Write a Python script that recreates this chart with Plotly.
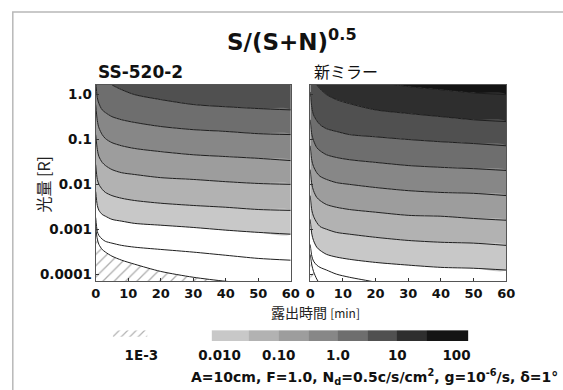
import numpy as np
import plotly.graph_objects as go

# ---------------------------------------------------------------
# Data: contour lines of S/(S+N)^0.5, given as log10(光量 [R])
# sampled at the exposure times below (minutes).
# ---------------------------------------------------------------
t_min = [0, 0.5, 1, 2, 3, 5, 8, 12, 20, 30, 40, 50, 60]

# SS-520-2
ss_3p16 = [1.22, 0.89, 0.66, 0.46, 0.35, 0.22, 0.11, 0.00, -0.11, -0.22, -0.27, -0.31, -0.34]
ss_1p0 = [0.33, -0.07, -0.20, -0.34, -0.40, -0.49, -0.56, -0.62, -0.71, -0.78, -0.82, -0.87, -0.89]
ss_0p316 = [-0.22, -0.58, -0.74, -0.89, -0.98, -1.07, -1.14, -1.20, -1.27, -1.34, -1.38, -1.42, -1.47]
ss_0p1 = [-0.89, -1.22, -1.38, -1.51, -1.58, -1.67, -1.74, -1.78, -1.85, -1.89, -1.94, -1.98, -2.00]
ss_0p0316 = [-1.56, -1.89, -2.00, -2.11, -2.18, -2.25, -2.31, -2.36, -2.42, -2.47, -2.51, -2.56, -2.58]
ss_0p01 = [-2.16, -2.47, -2.58, -2.67, -2.71, -2.78, -2.82, -2.87, -2.91, -2.96, -3.02, -3.07, -3.11]
ss_0p00316 = [-2.74, -3.05, -3.14, -3.22, -3.27, -3.31, -3.36, -3.40, -3.45, -3.51, -3.58, -3.65, -3.69]
ss_0p001 = [-2.96, -3.22, -3.34, -3.45, -3.51, -3.60, -3.69, -3.78, -3.94, -4.07, -4.16, -4.22, -4.29]

# 新ミラー
nm_31p6 = [1.66, 1.22, 1.04, 0.86, 0.75, 0.64, 0.51, 0.42, 0.29, 0.18, 0.11, 0.04, 0.00]
nm_10 = [1.00, 0.55, 0.38, 0.22, 0.13, 0.00, -0.11, -0.20, -0.34, -0.42, -0.49, -0.56, -0.60]
nm_3p16 = [0.06, -0.29, -0.45, -0.58, -0.67, -0.76, -0.82, -0.89, -0.94, -1.00, -1.05, -1.09, -1.14]
nm_1p0 = [-0.56, -0.89, -1.02, -1.18, -1.25, -1.34, -1.40, -1.45, -1.51, -1.58, -1.62, -1.65, -1.69]
nm_0p316 = [-1.14, -1.47, -1.60, -1.74, -1.82, -1.89, -1.96, -2.00, -2.07, -2.14, -2.18, -2.20, -2.25]
nm_0p1 = [-1.67, -2.00, -2.14, -2.29, -2.36, -2.45, -2.51, -2.56, -2.62, -2.69, -2.71, -2.76, -2.80]
nm_0p0316 = [-2.25, -2.58, -2.71, -2.85, -2.94, -3.00, -3.07, -3.11, -3.18, -3.25, -3.29, -3.31, -3.36]
nm_0p01 = [-2.78, -3.11, -3.25, -3.40, -3.47, -3.56, -3.62, -3.67, -3.74, -3.80, -3.85, -3.87, -3.91]
nm_0p00316 = [-3.34, -3.60, -3.71, -3.80, -3.85, -3.91, -4.00, -4.07, -4.18, -4.34, -4.45, -4.54, -4.62]
nm_0p001 = [-3.56, -3.80, -3.94, -4.11, -4.22, -4.34, -4.47, -4.58, -4.78, -4.96, -5.09, -5.18, -5.27]

# colour bands (S/(S+N)^0.5 intervals) and their grey levels
band_levels = [0.01, 0.0316, 0.1, 0.316, 1.0, 3.16, 10, 31.6, 100]
band_colors = ["#c8c8c8", "#b2b2b2", "#9d9d9d", "#878787",
               "#6e6e6e", "#505050", "#2e2e2e", "#141414"]
hatch_label = "1E-3"
cbar_ticktext = ["0.010", "0.10", "1.0", "10", "100"]

x_ticks = [0, 10, 20, 30, 40, 50, 60]
y_ticks = [1e-4, 1e-3, 1e-2, 1e-1, 1.0]
y_ticktext = ["0.0001", "0.001", "0.01", "0.1", "1.0"]

# ---------------------------------------------------------------
W, H = 563, 390


def fx(px):
    return px / W


def fy(py):
    return 1 - py / H


BOLD = "DejaVu Sans"
JP = "Noto Sans CJK JP"
LINE = "#1e1e1e"
SMOOTH = dict(shape="spline", smoothing=0.8)

fig = go.Figure()


def lin(v):
    return list(10 ** np.asarray(v, dtype=float))


def add_panel(curves, first_band, xa, ya):
    """curves: contour lines ordered from the highest level down;
    the last one is the 1E-3 boundary (hatched below)."""
    n_gray = len(curves) - 2  # lines bounding grey bands (last two are in white)
    top = [3.0] * len(t_min)
    uppers = [top] + curves[:n_gray - 1]
    lowers = curves[:n_gray]
    # grey bands, darkest at the top
    for k, (u, d) in enumerate(zip(uppers, lowers)):
        color = band_colors[first_band - k]
        fig.add_trace(go.Scatter(
            x=t_min + t_min[::-1], y=lin(u) + lin(d)[::-1],
            fill="toself", fillcolor=color, mode="lines",
            line=dict(width=0, **SMOOTH), hoverinfo="skip", showlegend=False,
            xaxis=xa, yaxis=ya))
    # hatched area below 1E-3
    low = curves[-1]
    fig.add_trace(go.Scatter(
        x=t_min + [60, 0], y=lin(low) + [1e-6, 1e-6],
        fill="toself", fillcolor="white", mode="lines",
        fillpattern=dict(shape="/", fgcolor="#5a5a5a", bgcolor="white",
                         size=8, solidity=0.16),
        line=dict(width=0, **SMOOTH), hoverinfo="skip", showlegend=False,
        xaxis=xa, yaxis=ya))
    # contour lines
    for c in curves:
        fig.add_trace(go.Scatter(
            x=t_min, y=lin(c), mode="lines",
            line=dict(color=LINE, width=1, **SMOOTH), hoverinfo="skip",
            showlegend=False, xaxis=xa, yaxis=ya))


ss_curves = [ss_3p16, ss_1p0, ss_0p316, ss_0p1, ss_0p0316, ss_0p01,
             ss_0p00316, ss_0p001]
nm_curves = [nm_31p6, nm_10, nm_3p16, nm_1p0, nm_0p316, nm_0p1,
             nm_0p0316, nm_0p01, nm_0p00316, nm_0p001]

add_panel(ss_curves, 5, "x", "y")
add_panel(nm_curves, 7, "x2", "y2")

# ---------------- colour scale bar ----------------
cb_edges = list(np.log10(band_levels))
cb_edges[0] -= 0.13
cb_edges[-1] += 0.2
n = len(band_colors)
cscale = [[k / (n - 1), c] for k, c in enumerate(band_colors)]
fig.add_trace(go.Heatmap(
    x=cb_edges, y=[0, 1], z=[list(range(n))], colorscale=cscale,
    zmin=0, zmax=n - 1, showscale=False, hoverinfo="skip",
    xaxis="x3", yaxis="y3"))
# hatch sample for the 1E-3 region
fig.add_trace(go.Scatter(
    x=[-3.80, -3.22, -3.22, -3.80], y=[0.4, 0.4, 1.0, 1.0],
    fill="toself", fillcolor="white", mode="lines", line=dict(width=0),
    fillpattern=dict(shape="/", fgcolor="#666666", bgcolor="white",
                     size=6, solidity=0.2),
    hoverinfo="skip", showlegend=False, xaxis="x3", yaxis="y3"))

# ---------------- axes ----------------
x_dom_l = [fx(93), fx(293)]
x_dom_r = [fx(313), fx(514)]
y_dom = [fy(282), fy(85)]

tick_font = dict(family=BOLD, size=13, color="#111", weight="bold")
xcommon = dict(range=[0, 60], tickvals=x_ticks, ticks="inside", ticklen=3,
               tickcolor="#333", showline=True, mirror=True, linecolor="#555",
               linewidth=1, showgrid=False, zeroline=False,
               tickfont=tick_font)
ycommon = dict(type="log", range=[-4.16, 0.22], tickvals=y_ticks,
               ticktext=y_ticktext, ticks="inside", ticklen=3,
               tickcolor="#333", showline=True, mirror=True,
               linecolor="#555", linewidth=1, showgrid=False,
               zeroline=False,
               tickfont=dict(family=BOLD, size=13.5, color="#111", weight="bold"))

fig.update_layout(
    width=W, height=H, margin=dict(l=0, r=0, t=0, b=0),
    paper_bgcolor="white", plot_bgcolor="white",
    xaxis=dict(domain=x_dom_l, anchor="y", **xcommon),
    yaxis=dict(domain=y_dom, anchor="x", **ycommon),
    xaxis2=dict(domain=x_dom_r, anchor="y2", **xcommon),
    yaxis2=dict(domain=y_dom, anchor="x2", showticklabels=False, **ycommon),
    xaxis3=dict(domain=[fx(100), fx(475)], anchor="y3",
                range=[-3.975, 2.197],
                tickvals=[-3.32, -2, -1, 0, 1, 2],
                ticktext=[hatch_label] + cbar_ticktext,
                ticks="", showline=False, showgrid=False, zeroline=False,
                ticklabelstandoff=4,
                tickfont=dict(family=BOLD, size=13.5, color="#111", weight="bold")),
    yaxis3=dict(domain=[fy(342), fy(331)], anchor="x3", range=[0, 1],
                visible=False),
)

# page frame
fig.add_shape(type="rect", xref="paper", yref="paper",
              x0=fx(8), x1=1.2, y0=-0.2, y1=fy(12),
              line=dict(color="#b8b8b8", width=1.5), layer="below")

ann = [
    dict(text="<b>S/(S+N)<sup>0.5</sup></b>", x=fx(294), y=fy(40),
         xanchor="center", yanchor="middle",
         font=dict(family=BOLD, size=23, color="#111")),
    dict(text="<b>SS-520-2</b>", x=fx(93), y=fy(72), xanchor="left",
         yanchor="middle", font=dict(family=BOLD, size=17, color="#111")),
    dict(text="新ミラー", x=fx(315), y=fy(71), xanchor="left",
         yanchor="middle", font=dict(family=JP, size=16, color="#111")),
    dict(text="光量 [R]", x=fx(38),
         y=fy(185), textangle=-90, xanchor="center", yanchor="middle",
         font=dict(family=JP, size=16, color="#222")),
    dict(text="露出時間 <span style='font-size:12px'>[min]</span>",
         x=fx(318), y=fy(313), xanchor="center", yanchor="middle",
         font=dict(family=JP, size=14, color="#222")),
    dict(text="<b>A=10cm, F=1.0, N<sub>d</sub>=0.5c/s/cm<sup>2</sup>, "
              "g=10<sup>-6</sup>/s, δ=1°</b>",
         x=fx(189), y=fy(378), xanchor="left", yanchor="middle",
         font=dict(family=BOLD, size=14, color="#111")),
]
for a in ann:
    a.update(xref="paper", yref="paper", showarrow=False)
    fig.add_annotation(**a)

fig.write_html("out.html")
